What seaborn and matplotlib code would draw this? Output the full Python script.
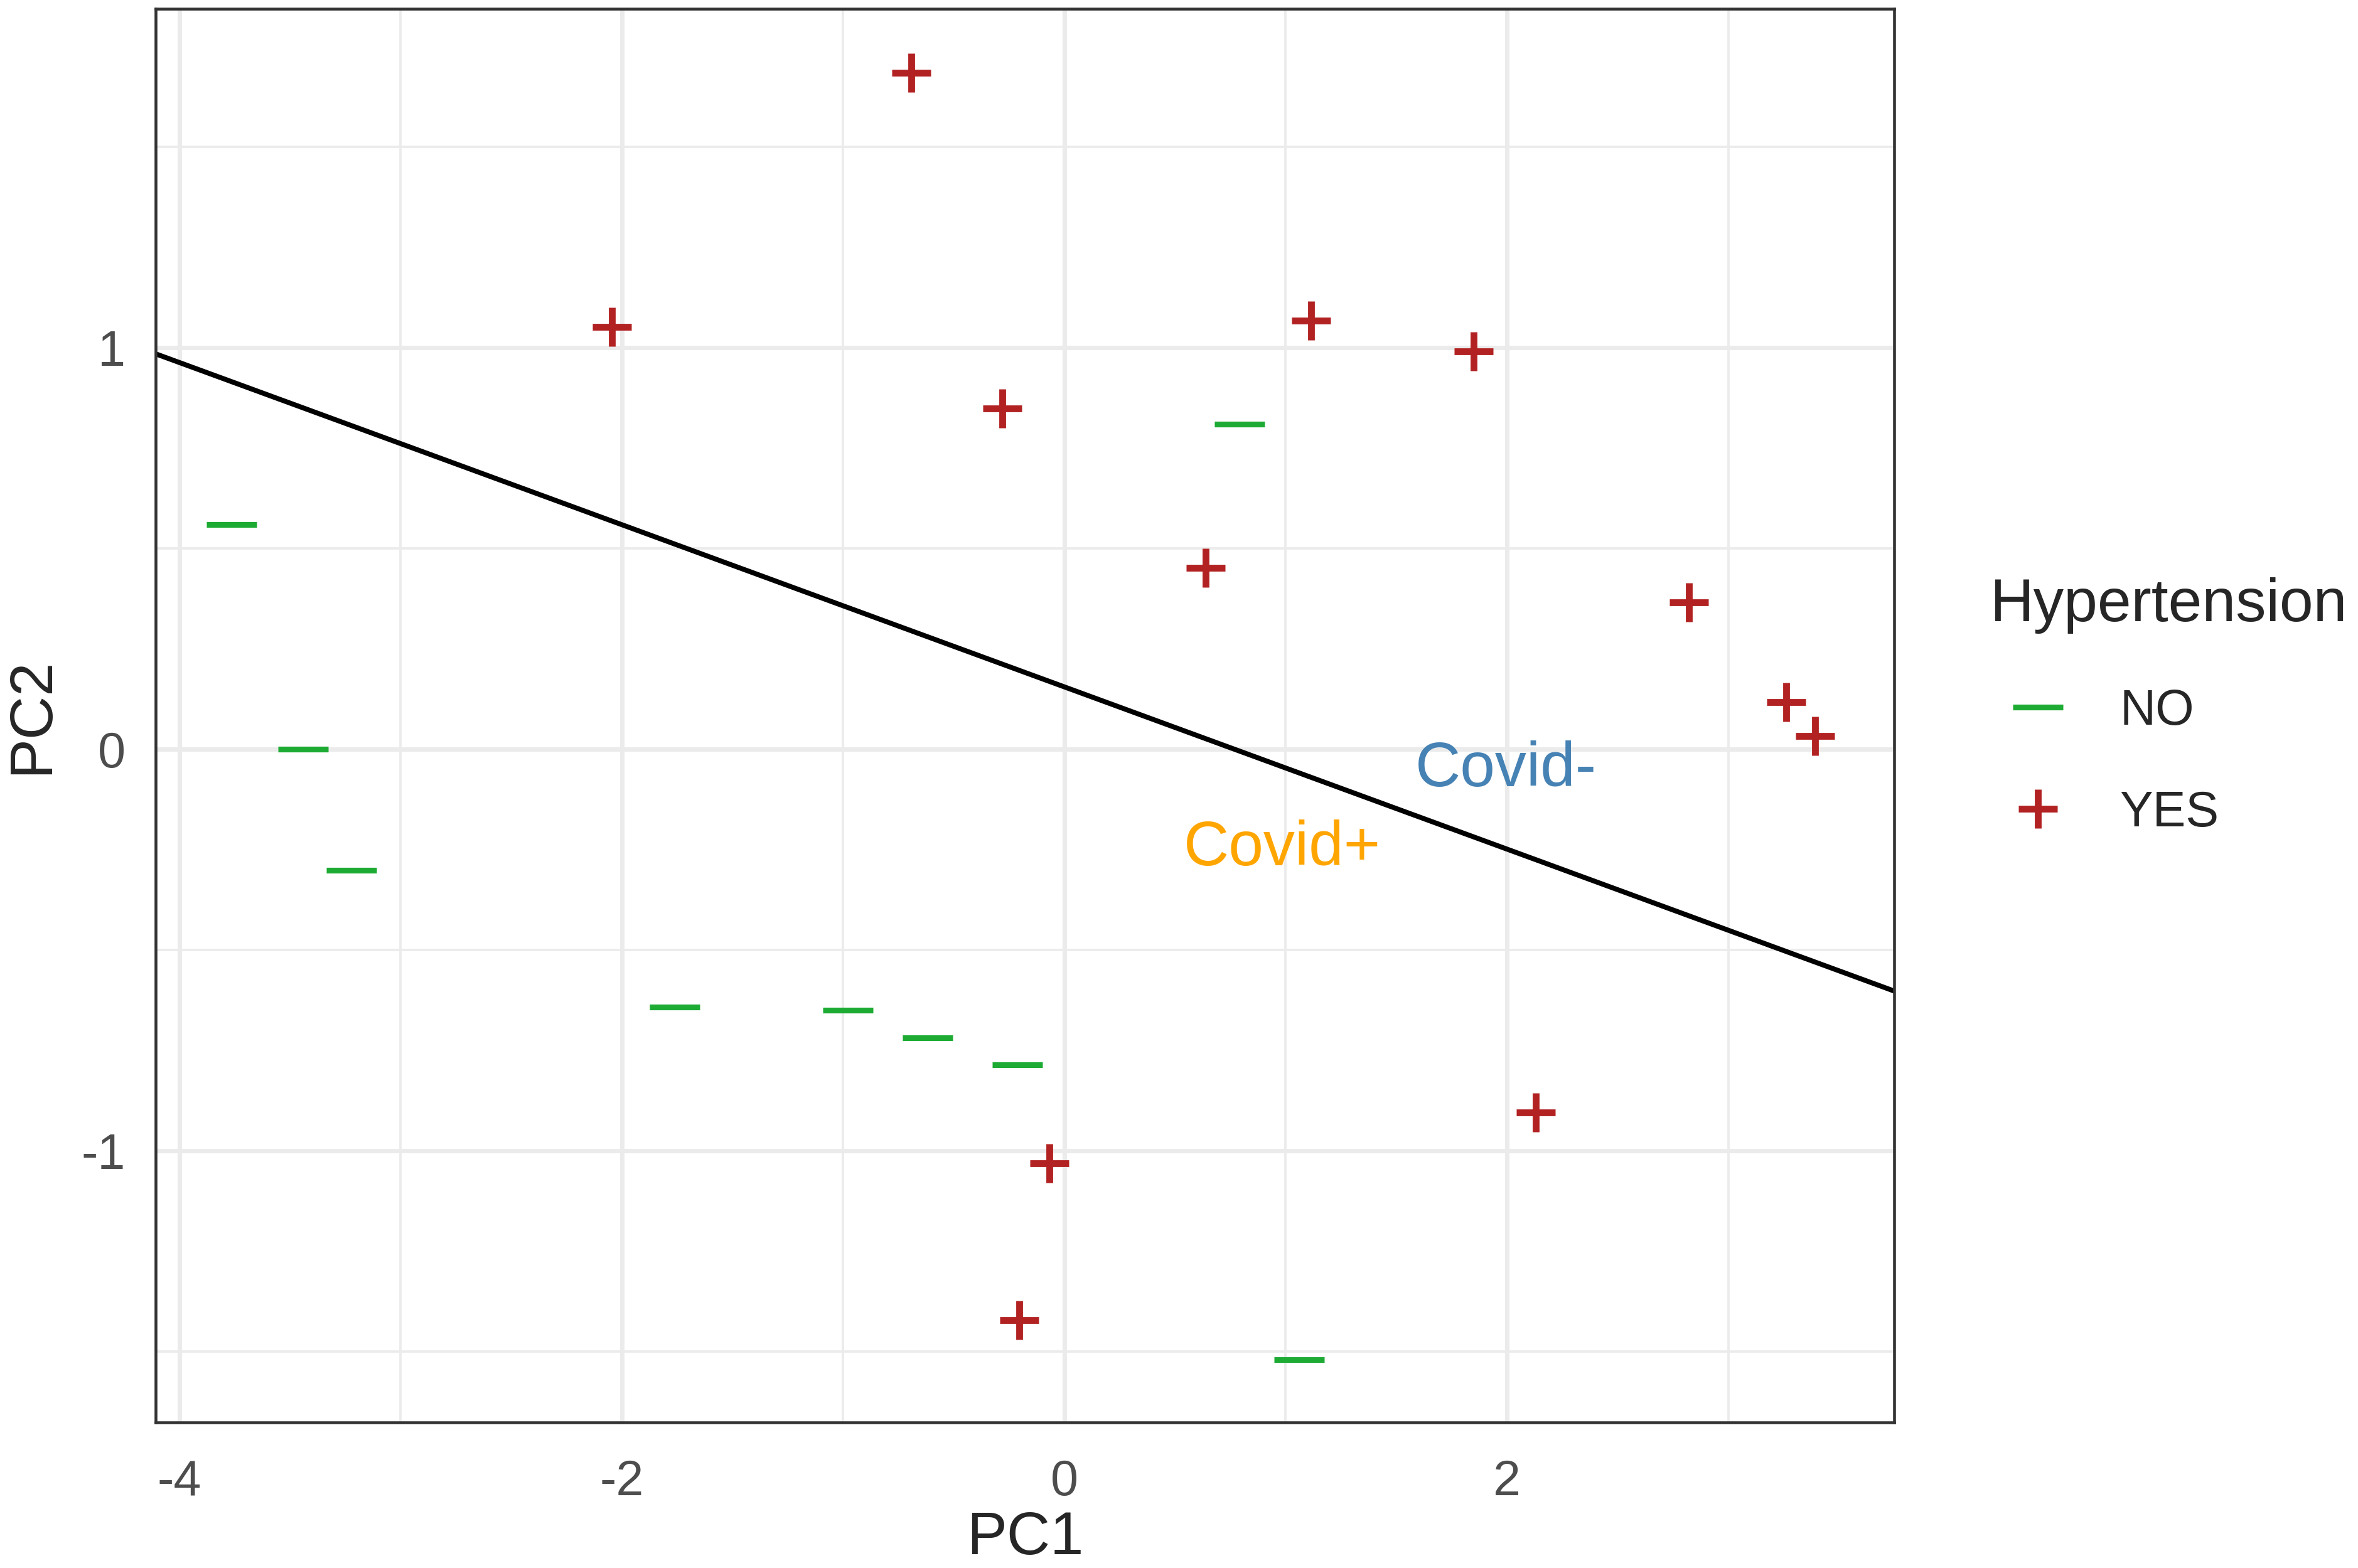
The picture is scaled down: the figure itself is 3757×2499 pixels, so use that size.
import numpy as np
import pandas as pd
import matplotlib.pyplot as plt
import seaborn as sns
from matplotlib.lines import Line2D

# PCA scores
pc1_yes = [-0.693, -2.044, 1.116, 1.849, -0.281, 0.638, 2.823, 3.262, 3.393, 2.129, -0.068, -0.205]
pc2_yes = [1.684, 1.052, 1.068, 0.990, 0.849, 0.451, 0.366, 0.117, 0.033, -0.905, -1.032, -1.423]
pc1_no = [-3.763, -3.440, -3.223, 0.791, -1.762, -0.978, -0.618, -0.212, 1.060]
pc2_no = [0.560, 0.000, -0.301, 0.809, -0.643, -0.650, -0.719, -0.786, -1.520]

# decision boundary
line_intercept = 0.155
line_slope = -0.202

region_labels = ['Covid-', 'Covid+']
region_x = [1.995, 0.984]
region_y = [-0.051, -0.248]
region_colors = ['#4682B4', '#FFA500']

groups = ['NO', 'YES']
group_colors = {'NO': '#1DAB34', 'YES': '#B22222'}

df = pd.DataFrame({
    'PC1': pc1_no + pc1_yes,
    'PC2': pc2_no + pc2_yes,
    'Hypertension': ['NO'] * len(pc1_no) + ['YES'] * len(pc1_yes),
})

sns.set_style('white')
plt.rcParams['font.family'] = ['Liberation Sans', 'DejaVu Sans']

W, H, DPI = 3757, 2499, 300
fig = plt.figure(figsize=(W / DPI, H / DPI), dpi=DPI)
ax = fig.add_axes([248 / W, 1 - 2267 / H, (3018 - 248) / W, (2267 - 14) / H])

# grid like theme_bw
ax.set_axisbelow(True)
ax.set_xticks([-4, -2, 0, 2])
ax.set_yticks([-1, 0, 1])
ax.set_xticks([-3, -1, 1, 3], minor=True)
ax.set_yticks([-1.5, -0.5, 0.5, 1.5], minor=True)
ax.grid(which='major', color='#EBEBEB', linewidth=1.7)
ax.grid(which='minor', color='#EBEBEB', linewidth=0.9)

ax.axline((0, line_intercept), slope=line_slope, color='black', linewidth=1.9, zorder=2)

sns.scatterplot(data=df[df['Hypertension'] == 'NO'], x='PC1', y='PC2', color=group_colors['NO'],
                marker='_', s=19 ** 2, linewidth=2.2, ax=ax, legend=False, zorder=3)
sns.scatterplot(data=df[df['Hypertension'] == 'YES'], x='PC1', y='PC2', color=group_colors['YES'],
                marker='+', s=15 ** 2, linewidth=2.6, ax=ax, legend=False, zorder=3)

for lab, x, y, c in zip(region_labels, region_x, region_y, region_colors):
    ax.text(x, y, lab, color=c, fontsize=24, ha='center', va='center')

ax.set_xlim(-4.107, 3.75)
ax.set_ylim(-1.677, 1.844)

for sp in ax.spines.values():
    sp.set_color('#333333')
    sp.set_linewidth(1.1)
ax.tick_params(which='major', length=6.5, width=1.2, color='#333333', labelcolor='#4D4D4D',
               labelsize=19)
ax.tick_params(axis='x', pad=7.5)
ax.tick_params(axis='y', pad=5)
ax.tick_params(which='minor', length=0)
ax.set_xticklabels(['-4', '-2', '0', '2'])
ax.set_yticklabels(['-1', '0', '1'])
ax.set_xlabel('PC1', fontsize=23, labelpad=1.5)
ax.set_ylabel('PC2', fontsize=23, labelpad=8)

handles = [
    Line2D([], [], linestyle='none', marker='_', markersize=19, markeredgewidth=2.2, color=group_colors['NO']),
    Line2D([], [], linestyle='none', marker='+', markersize=15, markeredgewidth=2.6, color=group_colors['YES']),
]
leg = fig.legend(handles, groups, title='Hypertension', loc='upper left',
                 bbox_to_anchor=(3138 / W, 1 - 888 / H), frameon=False,
                 fontsize=19, title_fontsize=23.2, handlelength=1.95, handletextpad=0.67,
                 labelspacing=1.1, borderaxespad=0)
leg._legend_box.align = 'left'

fig.savefig('out.png', dpi=DPI)
